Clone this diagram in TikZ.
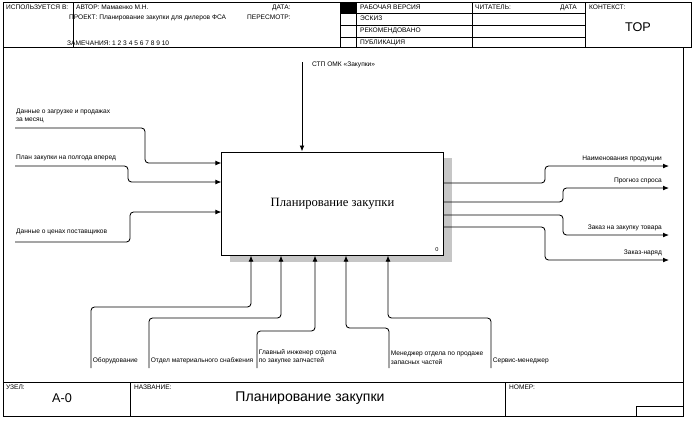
\documentclass[tikz,border=0pt]{standalone}
\usepackage{fontspec}
\setmainfont{Liberation Sans}
\newfontfamily\boxserif{Liberation Serif}
\usetikzlibrary{arrows.meta,positioning}

\begin{document}
\begin{tikzpicture}[
    x=0.025cm, y=-0.025cm,
    every node/.style={font=\fontsize{4.7}{5.8}\selectfont, inner sep=0.6pt},
    frame/.style={draw, line width=0.6pt},
    activity/.style={draw, fill=white, line width=0.7pt, minimum width=5.525cm, minimum height=2.575cm, font=\boxserif\fontsize{9}{10}\selectfont},
    hdr/.style={anchor=north west},
    flow/.style={-{Latex[length=1.5mm,width=1.2mm]}, line width=0.6pt, rounded corners=2.5pt}
]
\useasboundingbox (0,0) rectangle (695,437);

\draw[frame] (3,2) rectangle (691,47);
\draw[frame] (73,2) -- (73,47) (340,2) -- (340,47) (356,2) -- (356,47) (472,2) -- (472,47) (585,2) -- (585,47);
\foreach \y in {13,25,37} \draw[frame] (340,\y) -- (585,\y);
\fill (340,2) rectangle (356,13);
\node[hdr] (usedat) at (5,4) {ИСПОЛЬЗУЕТСЯ В:};
\node[hdr] (author) at (75,4) {АВТОР: Мамаенко М.Н.};
\node[hdr] (date) at (271,4) {ДАТА:};
\node[hdr] (project) at (68,14) {ПРОЕКТ: Планирование закупки для дилеров ФСА};
\node[hdr] (rev) at (246,14) {ПЕРЕСМОТР:};
\node[hdr] (notes) at (66,40) {ЗАМЕЧАНИЯ: 1 2 3 4 5 6 7 8 9 10};
\node[hdr] (working) at (359,4) {РАБОЧАЯ ВЕРСИЯ};
\node[hdr] (draft) at (359,15) {ЭСКИЗ};
\node[hdr] (recom) at (359,27) {РЕКОМЕНДОВАНО};
\node[hdr] (publ) at (359,39) {ПУБЛИКАЦИЯ};
\node[hdr] (reader) at (474,4) {ЧИТАТЕЛЬ:};
\node[hdr] (rdate) at (559,4) {ДАТА};
\node[hdr] (context) at (588,4) {КОНТЕКСТ:};
\node[font=\fontsize{9}{10}\selectfont] (top) at (638,27) {TOP};

\draw[frame] (3,47) -- (3,416) -- (683,416) -- (683,47);
\draw[frame] (3,382) -- (683,382) (130,382) -- (130,416) (505,382) -- (505,416);
\draw[frame] (636,406) rectangle (683,416);
\node[hdr] (nodelbl) at (5,384) {УЗЕЛ:};
\node[font=\fontsize{9}{10}\selectfont] (nodeno) at (62,398) {A-0};
\node[hdr] (titlelbl) at (133,384) {НАЗВАНИЕ:};
\node[font=\fontsize{10}{11}\selectfont] (title) at (310,398) {Планирование закупки};
\node[hdr] (numlbl) at (508,384) {НОМЕР:};

\fill[gray!45] (230,158) rectangle (452,262);
\node[activity] (plan) at (332.5,203.5) {Планирование закупки};
\node[anchor=south east, font=\fontsize{4}{5}\selectfont] (planno) at ([shift={(-4,-3)}]plan.south east) {0};

\coordinate (ctrl) at (302,62);
\draw[flow] (ctrl) -- (plan.north -| ctrl);
\node[hdr] (ctrllbl) at (311,61) {СТП ОМК «Закупки»};

\coordinate (in1) at (15,128);
\coordinate (in2) at (15,166);
\coordinate (in3) at (15,242);
\draw[flow] (in1) -- (145,128) |- (plan.west |- 0,163);
\draw[flow] (in2) -- (128,166) |- (plan.west |- 0,182);
\draw[flow] (in3) -- (130,242) |- (plan.west |- 0,212);
\node[above right=3pt and 0pt of in1, align=left] (in1lbl) {Данные о загрузке и продажах\\за месяц};
\node[above right=3pt and 0pt of in2] (in2lbl) {План закупки на полгода вперед};
\node[above right=4pt and 0pt of in3] (in3lbl) {Данные о ценах поставщиков};

\coordinate (out1) at (669,166);
\coordinate (out2) at (669,188);
\coordinate (out3) at (669,235);
\coordinate (out4) at (669,260);
\draw[flow] (plan.east |- 0,183) -- (545,183) |- (out1);
\draw[flow] (plan.east |- 0,202) -- (563,202) |- (out2);
\draw[flow] (plan.east |- 0,215) -- (563,215) |- (out3);
\draw[flow] (plan.east |- 0,227) -- (545,227) |- (out4);
\node[above left=2pt and 0.15cm of out1] (out1lbl) {Наименования продукции};
\node[above left=2pt and 0.15cm of out2] (out2lbl) {Прогноз спроса};
\node[above left=2pt and 0.15cm of out3] (out3lbl) {Заказ на закупку товара};
\node[above left=2pt and 0.15cm of out4] (out4lbl) {Заказ-наряд};

\coordinate (mech1) at (91,368);
\coordinate (mech2) at (149,368);
\coordinate (mech3) at (257,368);
\coordinate (mech4) at (389,368);
\coordinate (mech5) at (491,368);
\draw[flow] (mech1) |- (251,307) -- (plan.south -| 251,0);
\draw[flow] (mech2) |- (281,318) -- (plan.south -| 281,0);
\draw[flow] (mech3) |- (315,331) -- (plan.south -| 315,0);
\draw[flow] (mech4) |- (346,328) -- (plan.south -| 346,0);
\draw[flow] (mech5) |- (388,318) -- (plan.south -| 388,0);
\node[above right=2pt and 0.5pt of mech1] (mech1lbl) {Оборудование};
\node[above right=2pt and 0.5pt of mech2] (mech2lbl) {Отдел материального снабжения};
\node[above right=2pt and 0.5pt of mech3, align=left] (mech3lbl) {Главный инженер отдела\\по закупке запчастей};
\node[above right=2pt and 0.5pt of mech4, align=left] (mech4lbl) {Менеджер отдела по продаже\\запасных частей};
\node[above right=2pt and 0.5pt of mech5] (mech5lbl) {Сервис-менеджер};
\end{tikzpicture}
\end{document}
